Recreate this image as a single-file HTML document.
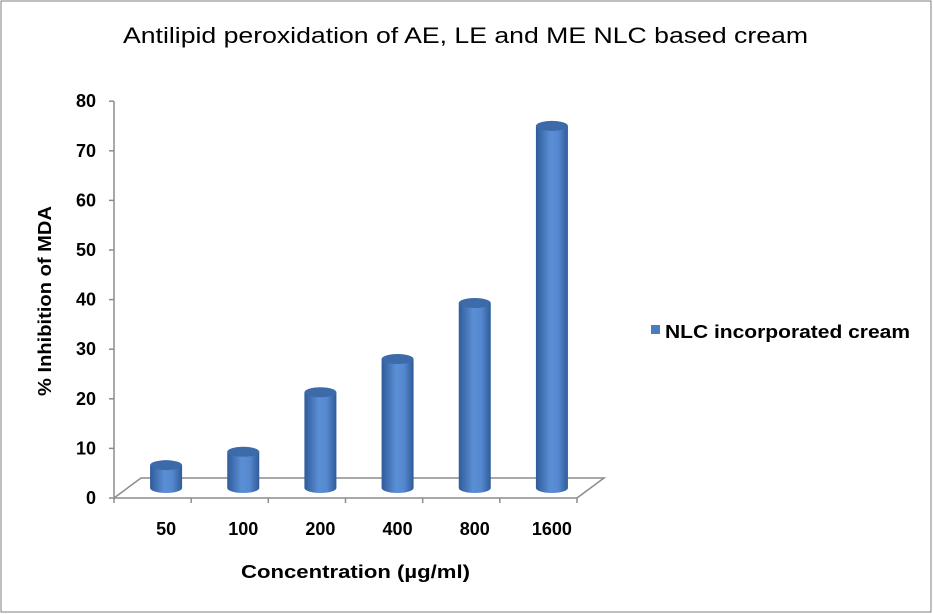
<!DOCTYPE html>
<html><head><meta charset="utf-8"><style>
body{margin:0;background:#fff;}
svg{display:block;font-family:"Liberation Sans",Arial,sans-serif;}
</style></head><body>
<svg width="933" height="614" viewBox="0 0 933 614">
<defs>
<linearGradient id="cyl" x1="0" x2="1" y1="0" y2="0">
<stop offset="0" stop-color="#2f5b9a"/><stop offset="0.45" stop-color="#5b8fd5"/><stop offset="0.7" stop-color="#5588cf"/><stop offset="1" stop-color="#2f5b9a"/>
</linearGradient>
</defs>
<rect x="1" y="1" width="930" height="611" fill="#fff" stroke="#7f7f7f"/>
<text x="123" y="43" font-size="22" textLength="685" lengthAdjust="spacingAndGlyphs" fill="#000">Antilipid peroxidation of AE, LE and ME NLC based cream</text>
<g id="floor"></g>
<g id="yaxis"></g>
<g id="xaxis"></g>
<g id="bars"></g>
<text transform="translate(51,396) rotate(-90)" font-size="18" font-weight="bold" textLength="190" lengthAdjust="spacingAndGlyphs">% Inhibition of MDA</text>
<text x="241" y="578" font-size="18" font-weight="bold" textLength="229" lengthAdjust="spacingAndGlyphs">Concentration (µg/ml)</text>
<g>
<rect x="651" y="325" width="9" height="9" fill="#4a7cc0"/>
<text x="665" y="338" font-size="18" font-weight="bold" textLength="245" lengthAdjust="spacingAndGlyphs">NLC incorporated cream</text>
</g>
<script>
const categories=["50","100","200","400","800","1600"];
const values=[4.6,7.3,19.3,26.0,37.3,73.0];
const yTicks=[0,10,20,30,40,50,60,70,80];
const NS="http://www.w3.org/2000/svg";
const x0=114,x1=577,y0=498,pxPer=4.96,dx=27,dy=-20;
const step=(x1-x0)/categories.length;
function Y(v){return y0-v*pxPer;}
function X(i){return x0+step*(i+0.5);}
function mk(tag,attrs,parent){const e=document.createElementNS(NS,tag);for(const k in attrs)e.setAttribute(k,attrs[k]);parent.appendChild(e);return e;}
const floor=document.getElementById('floor');
let p=mk('polyline',{points:`${x0},${y0} ${x0+dx},${y0+dy} ${x1+dx},${y0+dy} ${x1},${y0}`,fill:'none',stroke:'#8c8c8c','stroke-width':1.5},floor);


const ya=document.getElementById('yaxis');
let l=mk('line',{x1:x0,x2:x0,y1:Y(80),y2:y0,stroke:'#8c8c8c','stroke-width':1.5},ya);


yTicks.forEach(v=>{
 let t=mk('line',{x1:x0-5,x2:x0,y1:Y(v),y2:Y(v),stroke:'#8c8c8c','stroke-width':1.5},ya);
 
 
 let tx=mk('text',{x:96,y:Y(v)+6,'text-anchor':'end','font-size':18,'font-weight':'bold'},ya);
 tx.textContent=v;
 
 
});
const xa=document.getElementById('xaxis');
let xl=mk('line',{x1:x0,x2:x1,y1:y0,y2:y0,stroke:'#8c8c8c','stroke-width':1.5},xa);


for(let i=0;i<=categories.length;i++){
 let t=mk('line',{x1:x0+step*i,x2:x0+step*i,y1:y0,y2:y0+5,stroke:'#8c8c8c','stroke-width':1.5},xa);
 
 
}
categories.forEach((c,i)=>{
 let tx=mk('text',{x:X(i)+dx/2,y:535,'text-anchor':'middle','font-size':18,'font-weight':'bold'},xa);
 tx.textContent=c;
 
 
});
const bars=document.getElementById('bars');
const rx=16,ry=5;
values.forEach((v,i)=>{
 const cx=X(i)+dx/2, base=y0+dy/2, top=base-v*pxPer;
 const g=mk('g',{},bars);
 
 
 mk('path',{d:`M${cx-rx},${top} L${cx-rx},${base} A${rx},${ry} 0 0 0 ${cx+rx},${base} L${cx+rx},${top} Z`,fill:'url(#cyl)'},g);
 mk('ellipse',{cx:cx,cy:top,rx:rx,ry:ry,fill:'#3d6aa8'},g);
});
</script>
</svg>
</body></html>
